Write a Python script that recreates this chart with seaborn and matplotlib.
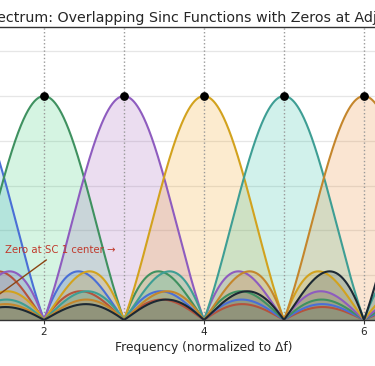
import numpy as np
import pandas as pd
import matplotlib
matplotlib.use("Agg")
import matplotlib.pyplot as plt
import seaborn as sns

# OFDM subcarriers: centre frequency (in units of Δf) and peak magnitude
subcarriers = [0, 1, 2, 3, 4, 5, 6, 7]
peak_amplitude = [1.0, 1.0, 1.0, 1.0, 1.0, 1.0, 1.0, 1.0]
line_colors = ["#b5533c", "#4a6fd6", "#3f9160", "#8e5cbf",
               "#d2a21e", "#3e9e94", "#c4862c", "#1c2833"]
fill_colors = ["#e74c3c", "#3498db", "#2ecc71", "#9b59b6",
               "#f39c12", "#1abc9c", "#e67e22", "#34495e"]
ytick_values = [0.0, 0.2, 0.4, 0.6, 0.8, 1.0, 1.2]
xtick_values = [0, 2, 4, 6, 8]

title = "OFDM Spectrum: Overlapping Sinc Functions with Zeros at Adjacent Subcarriers"
xlabel = "Frequency (normalized to Δf)"
note = "Zero at SC 1 center →"

sns.set_style("whitegrid")
plt.rcParams["font.family"] = ["DejaVu Sans"]

# each subcarrier spectrum is |A sinc(f - k)|
freq = np.linspace(-1.0, 9.4, 3000)
frames = []
for k, amp in zip(subcarriers, peak_amplitude):
    frames.append(pd.DataFrame({"freq": freq,
                                "mag": np.abs(amp * np.sinc(freq - k)),
                                "sc": k}))
df = pd.concat(frames, ignore_index=True)

fig = plt.figure(figsize=(3.75, 3.66), dpi=100)
ax = fig.add_axes([-196 / 375, 46 / 366, 832 / 375, 293.4 / 366])

for k, fc in zip(subcarriers, fill_colors):
    sub = df[df["sc"] == k]
    ax.fill_between(sub["freq"], 0, sub["mag"], color=fc, alpha=0.2,
                    lw=0, zorder=1)

sns.lineplot(data=df, x="freq", y="mag", hue="sc", palette=line_colors,
             legend=False, lw=1.5, ax=ax, zorder=3)

for k in subcarriers:
    ax.axvline(k, color="#999999", ls=":", lw=1, zorder=2)

ax.scatter(subcarriers, peak_amplitude, color="black", s=28, zorder=5)

ax.annotate(note, xy=(1, 0), xytext=(2.2, 0.3125), ha="center", va="center",
            fontsize=7.3, color="#c0392b",
            arrowprops=dict(arrowstyle="->", color="#8b4513", lw=1))

ax.set_xlim(-1.0, 9.4)
ax.set_ylim(0, 1.31)
ax.set_xticks(xtick_values)
ax.set_yticks(ytick_values)
ax.grid(axis="x", visible=False)
ax.grid(axis="y", color="#e6e6e6", lw=0.9)
ax.set_xlabel(xlabel, fontsize=8.8, labelpad=3, x=(204 + 196) / 832)
ax.set_ylabel("Magnitude")
ax.set_title(title, fontsize=10.3, pad=3, x=(217 + 196) / 832)
ax.tick_params(axis="x", bottom=True, length=3, width=0.8, labelsize=7.5,
               color="#333333", pad=2)
for side in ["top", "bottom", "left", "right"]:
    ax.spines[side].set_color("#333333")
    ax.spines[side].set_linewidth(1)

fig.savefig("out.png", dpi=100)
